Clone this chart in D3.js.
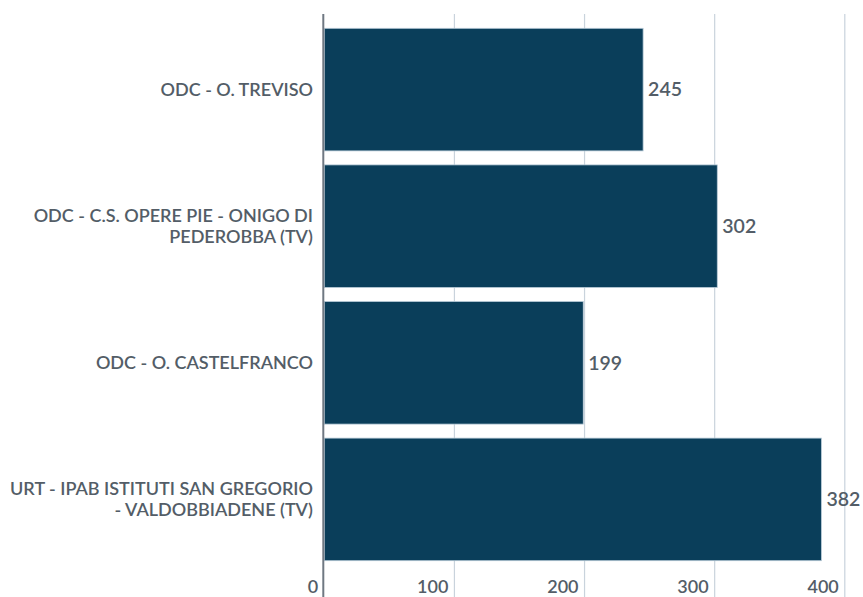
<!DOCTYPE html>
<html><head><meta charset="utf-8">
<script src="https://cdn.jsdelivr.net/npm/d3@7"></script>
<style>
html,body{margin:0;padding:0;background:#fff;}
svg{display:block;font-family:Lato,"Noto Sans",sans-serif;}
</style></head>
<body>
<svg id="chart" width="863" height="597"></svg>
<script>
const categories = [
  "ODC - O. TREVISO",
  "ODC - C.S. OPERE PIE - ONIGO DI\nPEDEROBBA (TV)",
  "ODC - O. CASTELFRANCO",
  "URT - IPAB ISTITUTI SAN GREGORIO\n- VALDOBBIADENE (TV)"
];
const values = [245, 302, 199, 382];
const xTicks = [0, 100, 200, 300, 400];

const svg = d3.select("#chart");
const x = d3.scaleLinear().domain([0, 400]).range([324.3, 844.8]);
const y = d3.scaleBand().domain(categories).range([21.3, 567.7]).paddingInner(0.1026).paddingOuter(0.0513);

const textColor = "#535d67";

// gridlines
svg.append("g").selectAll("line").data(xTicks.filter(d => d > 0)).join("line")
  .attr("x1", d => x(d)).attr("x2", d => x(d))
  .attr("y1", 14).attr("y2", 597)
  .attr("stroke", "#c9d3dc").attr("stroke-width", 1.2);

// bars
svg.append("g").selectAll("rect").data(values).join("rect")
  .attr("x", x(0))
  .attr("y", (d, i) => y(categories[i]))
  .attr("width", d => x(d) - x(0))
  .attr("height", y.bandwidth())
  .attr("fill", "#0a3e5a")
  .attr("stroke", "#b9cbd8").attr("stroke-width", 0.8);

// axis line
svg.append("line")
  .attr("x1", x(0) - 1).attr("x2", x(0) - 1)
  .attr("y1", 14).attr("y2", 597)
  .attr("stroke", "#6f7882").attr("stroke-width", 2);

// value labels
svg.append("g").selectAll("text").data(values).join("text")
  .attr("x", d => x(d) + 5)
  .attr("y", (d, i) => y(categories[i]) + y.bandwidth() / 2)
  .attr("dy", "0.35em")
  .attr("font-size", 19.5)
  .attr("font-weight", 600)
  .attr("fill", textColor)
  .text(d => d);

// category labels
const fs = 18;
const cat = svg.append("g").selectAll("text").data(categories).join("text")
  .attr("text-anchor", "end")
  .attr("font-size", fs)
  .attr("font-weight", 600)
  .attr("fill", textColor)
  .attr("y", d => y(d) + y.bandwidth() / 2);
cat.each(function(d) {
  const lines = d.split("\n");
  const t = d3.select(this);
  const lh = 21;
  lines.forEach((ln, k) => {
    t.append("tspan")
      .attr("x", 313)
      .attr("dy", k === 0 ? (0.35 * fs - (lines.length - 1) * lh / 2) : lh)
      .text(ln);
  });
});

// x tick labels
svg.append("g").selectAll("text").data(xTicks).join("text")
  .attr("x", d => x(d) - 6)
  .attr("y", 593)
  .attr("text-anchor", "end")
  .attr("font-size", 18)
  .attr("font-weight", 600)
  .attr("fill", textColor)
  .text(d => d);
</script>
</body></html>
